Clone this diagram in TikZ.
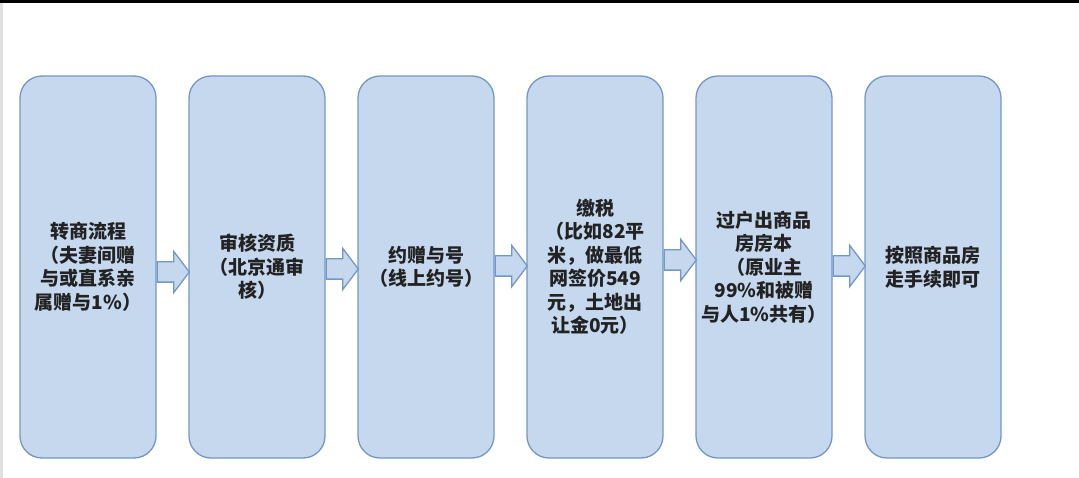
\documentclass[tikz,border=0pt]{standalone}
\usepackage{fontspec}
\newfontfamily\cjk{Noto Sans CJK SC}
\usetikzlibrary{shapes.arrows,positioning}
\definecolor{boxfill}{HTML}{C5D8EE}
\definecolor{boxline}{HTML}{7398C6}
\definecolor{inktext}{HTML}{222222}
\begin{document}
\begin{tikzpicture}[x=1pt,y=-1pt,node distance=169pt,on grid,
    stepbox/.style={draw=boxline,fill=boxfill,line width=1.3pt,rounded corners=22pt,
        minimum width=136pt,minimum height=382pt,inner sep=0pt,align=center,
        text=inktext,font=\cjk\bfseries\fontsize{19}{23.5}\selectfont},
    flowarrow/.style={single arrow,draw=boxline,fill=boxfill,line width=1.3pt,
        minimum height=32pt,inner xsep=0pt,inner ysep=9.5pt,
        single arrow head extend=10.5pt,single arrow tip angle=106,anchor=tail}]
    \useasboundingbox (0,0) rectangle (1079,478);
    \fill[black] (0,0) rectangle (1079,3);
    \fill[black!12] (0,3) rectangle (3,478);

    \node[stepbox] (zhuanshang) at (88,267) {转商流程\\（夫妻间赠\\与或直系亲\\属赠与1\%）};
    \node[stepbox] (shenhe) [right=of zhuanshang] {审核资质\\（北京通审\\核）};
    \node[stepbox] (yuehao) [right=of shenhe] {约赠与号\\（线上约号）};
    \node[stepbox] (jiaoshui) [right=of yuehao] {缴税\\（比如82平\\米，做最低\\网签价549\\元，土地出\\让金0元）};
    \node[stepbox] (guohu) [right=of jiaoshui] {过户出商品\\房房本\\（原业主\\99\%和被赠\\与人1\%共有）};
    \node[stepbox] (zoushouxu) [right=of guohu] {按照商品房\\走手续即可};

    \node[flowarrow] (a_1) at ([yshift=-5pt]zhuanshang.east) {};
    \node[flowarrow] (a_2) at ([yshift=-2pt]shenhe.east) {};
    \node[flowarrow] (a_3) at ([yshift=1pt]yuehao.east) {};
    \node[flowarrow] (a_4) at ([yshift=7pt]jiaoshui.east) {};
    \node[flowarrow] (a_5) at ([yshift=1pt]guohu.east) {};
\end{tikzpicture}
\end{document}
